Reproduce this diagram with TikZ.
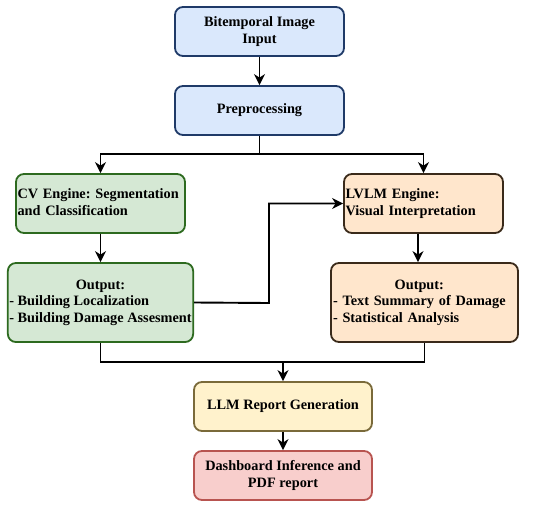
\documentclass[tikz,border=0pt]{standalone}
\usepackage{fontspec}
\setmainfont{Liberation Serif}
\usetikzlibrary{arrows.meta,calc}
\definecolor{bfill}{HTML}{DAE8FC}\definecolor{bline}{HTML}{1F3A68}
\definecolor{gfill}{HTML}{D5E8D4}\definecolor{gline}{HTML}{2D6A1F}
\definecolor{ofill}{HTML}{FFE6CC}\definecolor{oline}{HTML}{3A2A1A}
\definecolor{yfill}{HTML}{FFF2CC}\definecolor{yline}{HTML}{7A6A3A}
\definecolor{rfill}{HTML}{F8CECC}\definecolor{rline}{HTML}{B85450}
\frenchspacing
\begin{document}
\begin{tikzpicture}[x=1pt,y=-1pt,
  box/.style={draw,rounded corners=8pt,line width=1.8pt,inner xsep=1.5pt,inner ysep=0pt,
    font=\fontsize{14.3}{17}\selectfont\bfseries\frenchspacing},
  bluebox/.style={box,fill=bfill,draw=bline,align=center},
  greenbox/.style={box,fill=gfill,draw=gline},
  orangebox/.style={box,fill=ofill,draw=oline},
  yellowbox/.style={box,fill=yfill,draw=yline,align=center},
  redbox/.style={box,fill=rfill,draw=rline,align=center},
  arr/.style={line width=1.9pt,-{Stealth[length=11pt,width=11pt,inset=3.5pt]}},
  ln/.style={line width=1.9pt}]
\useasboundingbox (0,0) rectangle (550,507);
\node[bluebox,minimum width=169pt,minimum height=49pt] (b1) at (259.5,31.5) {Bitemporal Image\\Input};
\node[bluebox,minimum width=169pt,minimum height=49pt] (b2) at (259.5,110.5) {Preprocessing};
\node[greenbox,minimum width=169pt,minimum height=59pt,text width=166pt,align=left] (cv) at (100.5,203.5)
  {\begin{tabular}{@{}l@{}}CV Engine: Segmentation\\and Classification\end{tabular}};
\node[greenbox,minimum width=185pt,minimum height=79pt,align=center] (cvout) at (100.5,302.5)
  {\begin{tabular}{@{}l@{}}\multicolumn{1}{@{}c@{}}{Output:}\\[-0.5pt]- Building Localization\\- Building Damage Assesment\end{tabular}};
\node[orangebox,minimum width=187pt,minimum height=79pt,text width=183pt,align=left] (lvlmout) at (424.5,302.5)
  {\begin{tabular}{@{}l@{}}\multicolumn{1}{@{}c@{}}{Output:}\\[-0.5pt]- Text Summary of Damage\\- Statistical Analysis\end{tabular}};
\node[orangebox,minimum width=159pt,minimum height=59pt,text width=156pt,align=left] (lvlm) at (423.5,203.5)
  {\begin{tabular}{@{}l@{}}LVLM Engine:\\Visual Interpretation\end{tabular}};
\node[yellowbox,minimum width=178pt,minimum height=49pt] (llm) at (283,406.5) {LLM Report Generation};
\node[redbox,minimum width=178pt,minimum height=49pt] (dash) at (283,475.5) {Dashboard Inference and\\PDF report};
\coordinate (split) at (259.5,154);
\coordinate (j1) at (269,303);
\coordinate (merge) at (283,362);
\draw[arr] (b1) -- (b2);
\draw[ln] (b2.south) -- (split);
\draw[arr] (split) -| (cv.north);
\draw[arr] (split) -| (lvlm.north);
\draw[arr] (cv) -- (cvout);
\draw[arr] (cvout.east) -- (j1) |- (lvlm.west);
\draw[arr] ([xshift=-5.5pt]lvlm.south) -- ([xshift=-5.5pt]lvlm.south |- lvlmout.north);
\draw[ln] (cvout.south) |- (merge);
\draw[ln] (lvlmout.south) |- (merge);
\draw[arr] (merge) -- (llm.north);
\draw[arr] (llm) -- (dash);
\end{tikzpicture}
\end{document}
